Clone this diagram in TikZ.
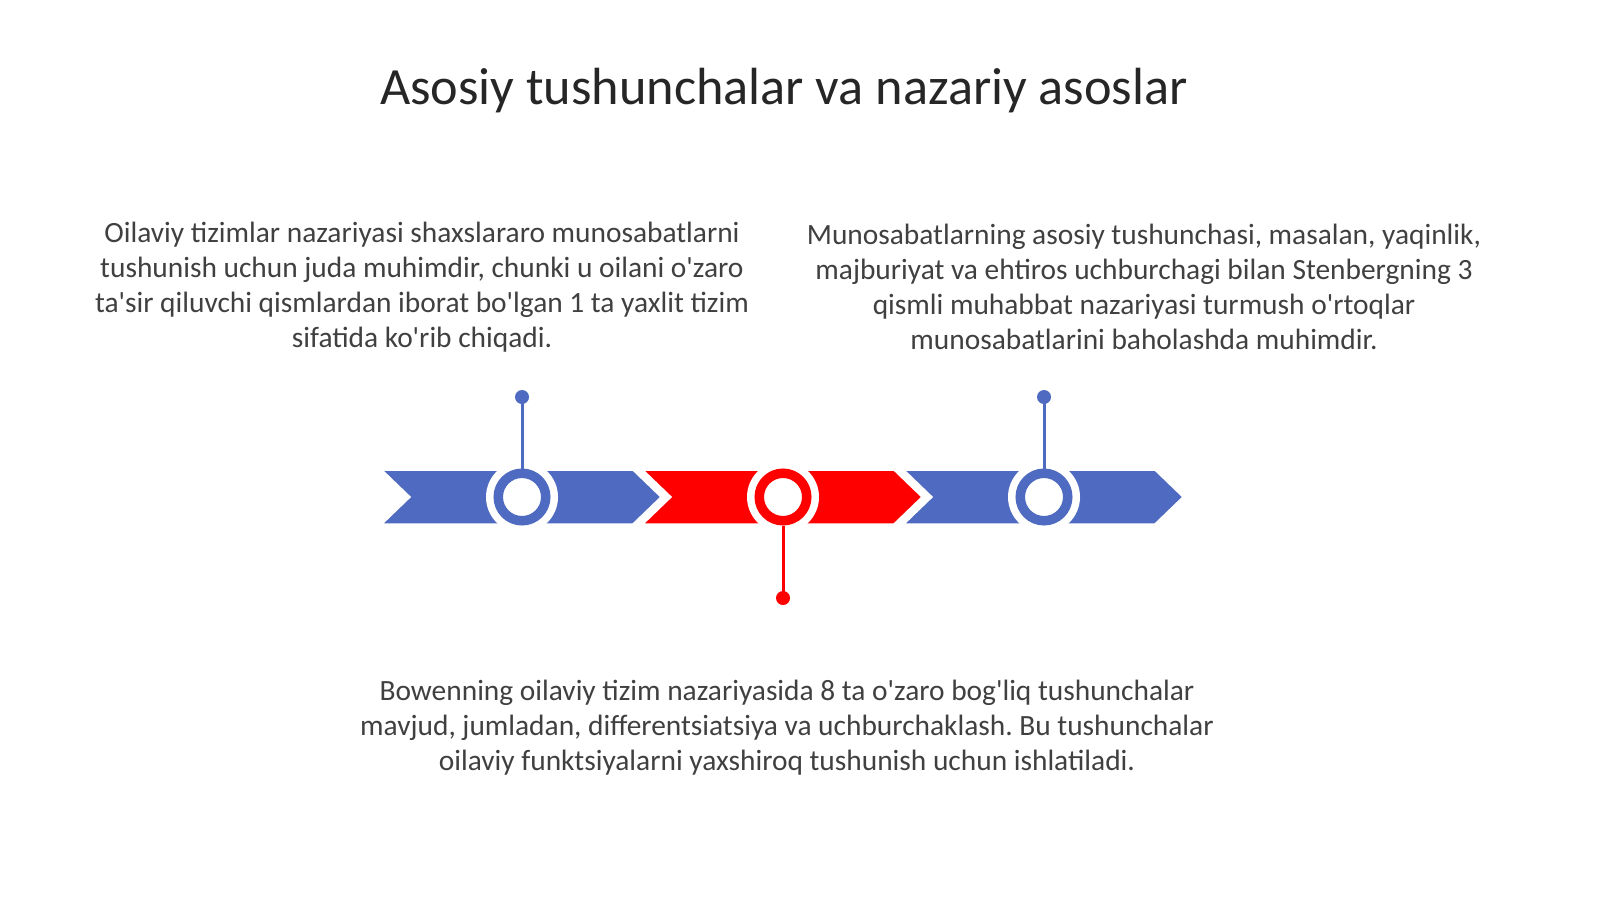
\documentclass[tikz,border=0pt]{standalone}
\usepackage{fontspec}
\setmainfont{Carlito}[Ligatures=TeXOff]
\frenchspacing
\definecolor{tlblue}{RGB}{79,107,193}
\definecolor{tlred}{RGB}{255,0,0}
\definecolor{bodytext}{RGB}{64,64,64}
\definecolor{titletext}{RGB}{38,38,38}
\begin{document}
\begin{tikzpicture}[x=1bp,y=-1bp,
  bodytxt/.style={align=center,text=bodytext,font=\fontsize{29.4bp}{35bp}\selectfont\frenchspacing,inner sep=0pt},
  halo/.style={circle,fill=white,minimum size=72bp,inner sep=0pt},
  ring/.style={circle,draw=#1,line width=9.5bp,fill=white,minimum size=47.5bp,inner sep=0pt},
  dotnode/.style={circle,fill=#1,minimum size=14bp,inner sep=0pt},
  stem/.style={draw=#1,line width=3bp},
  chev/.style={fill=#1,draw=white,line width=1.5bp}]
\useasboundingbox[fill=white] (0,0) rectangle (1600,899);

\node[font=\fontsize{52.3bp}{60bp}\selectfont,text=titletext,inner sep=0pt] (title) at (784,91) {Asosiy tushunchalar va nazariy asoslar};

% chevrons
\foreach \x/\c in {382/tlblue,643/tlred,904/tlblue}{
  \path[chev=\c] (\x,470) -- ++(251,0) -- ++(28,27) -- ++(-28,27) -- ++(-251,0) -- ++(28,-27) -- cycle;
}

% halos
\node[halo] (h1) at (522,497) {};
\node[halo] (h2) at (783,497) {};
\node[halo] (h3) at (1044,497) {};

% rings
\node[ring=tlblue] (c1) at (522,497) {};
\node[ring=tlred] (c2) at (783,497) {};
\node[ring=tlblue] (c3) at (1044,497) {};

% dots
\node[dotnode=tlblue] (d1) at (522,397) {};
\node[dotnode=tlred] (d2) at (783,598) {};
\node[dotnode=tlblue] (d3) at (1044,397) {};

\draw[stem=tlblue] (c1.north) -- (d1.center);
\draw[stem=tlred] (c2.south) -- (d2.center);
\draw[stem=tlblue] (c3.north) -- (d3.center);

\node[bodytxt] (t1) at (422,287) {Oilaviy tizimlar nazariyasi shaxslararo munosabatlarni\\tushunish uchun juda muhimdir, chunki u oilani o'zaro\\ta'sir qiluvchi qismlardan iborat bo'lgan 1 ta yaxlit tizim\\sifatida ko'rib chiqadi.};
\node[bodytxt] (t2) at (1144,287) {Munosabatlarning asosiy tushunchasi, masalan, yaqinlik,\\majburiyat va ehtiros uchburchagi bilan Stenbergning 3\\qismli muhabbat nazariyasi turmush o'rtoqlar\\munosabatlarini baholashda muhimdir.};
\node[bodytxt] (t3) at (787,728) {Bowenning oilaviy tizim nazariyasida 8 ta o'zaro bog'liq tushunchalar\\mavjud, jumladan, differentsiatsiya va uchburchaklash. Bu tushunchalar\\oilaviy funktsiyalarni yaxshiroq tushunish uchun ishlatiladi.};
\end{tikzpicture}
\end{document}
